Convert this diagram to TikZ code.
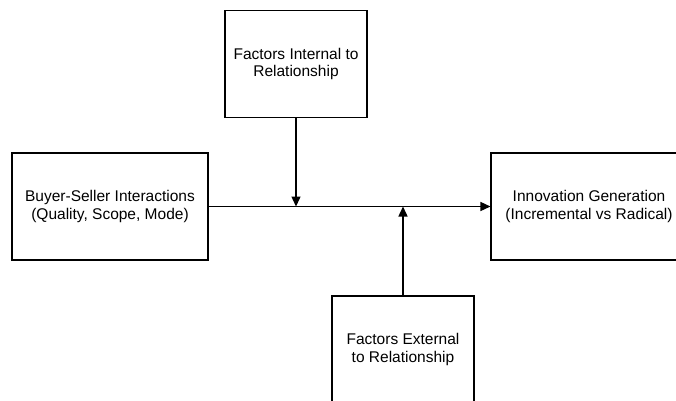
\documentclass[tikz,border=0pt]{standalone}
\usepackage{fontspec}
\setmainfont{Liberation Sans}
\usetikzlibrary{arrows.meta}

\tikzset{
    factorbox/.style={draw, line width=1.1pt, minimum width=142pt, minimum height=107pt,
        align=center, font=\fontsize{15.5}{17.5}\selectfont, inner sep=0pt},
    mainbox/.style={factorbox, minimum width=196pt},
    link/.style={line width=1.4pt, -{Triangle[length=10pt, width=9pt]}}
}

\begin{document}
\begin{tikzpicture}[x=1pt, y=-1pt]
    \useasboundingbox (0,0) rectangle (676,400);
    \node[mainbox] (buyer) at (110,206.5) {Buyer-Seller Interactions\\(Quality, Scope, Mode)};
    \node[mainbox] (innov) at (589,206.5) {Innovation Generation\\(Incremental vs Radical)};
    \node[factorbox] (internal) at (296,64) {Factors Internal to\\Relationship};
    \node[factorbox] (external) at (403,349.5) {Factors External\\to Relationship};
    \coordinate (inhit) at (internal.south |- buyer.east);
    \coordinate (exhit) at (external.north |- buyer.east);
    \draw[link] (buyer.east) -- (innov.west);
    \draw[link] (internal.south) -- (inhit);
    \draw[link] (external.north) -- (exhit);
\end{tikzpicture}
\end{document}
